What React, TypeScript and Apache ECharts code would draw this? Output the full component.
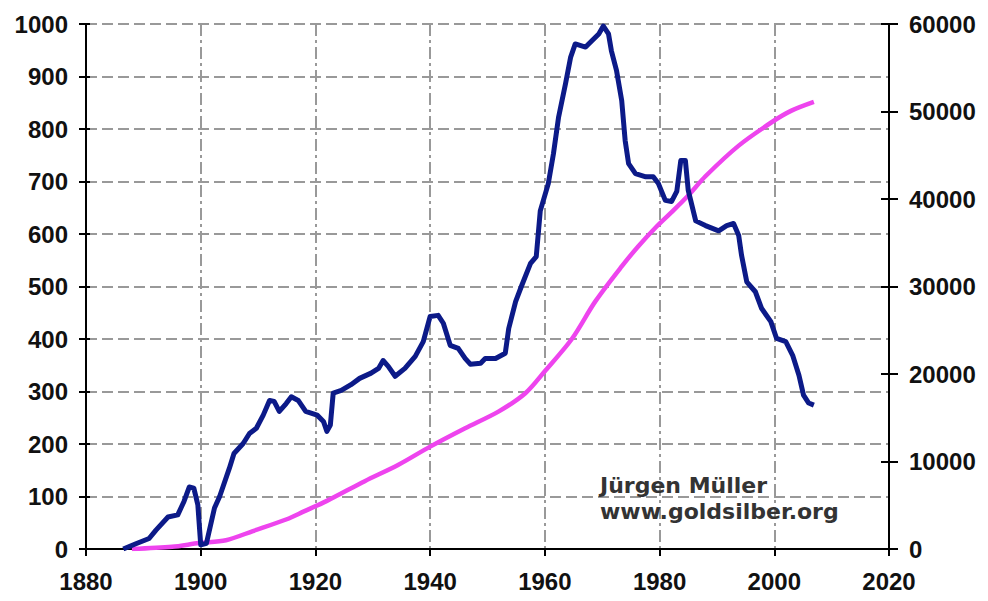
import React, { useEffect, useRef } from "react";
import * as echarts from "echarts";

const blueSeries: [number, number][] = [
  [1886.5, 0], [1888.7, 10], [1891, 20], [1892.2, 36], [1894.3, 61], [1896, 65],
  [1897.1, 91], [1898, 118], [1898.8, 116], [1899.5, 84], [1900, 8], [1901, 11],
  [1902.4, 78], [1903.3, 100], [1905, 154], [1905.8, 182], [1907.4, 201], [1908.5, 220],
  [1909.7, 230], [1910.9, 255], [1912, 283], [1912.8, 281], [1913.7, 262], [1914.9, 277],
  [1915.8, 290], [1917, 283], [1918.3, 262], [1920.3, 255], [1921.4, 243], [1922, 224],
  [1922.6, 236], [1923.1, 297], [1924.5, 302], [1926.2, 313], [1927.7, 325], [1929.7, 335],
  [1931, 344], [1931.8, 359], [1932.7, 348], [1933.9, 329], [1935.6, 344], [1937.4, 367],
  [1938.8, 395], [1940, 443], [1941.4, 445], [1942.3, 430], [1943.5, 388], [1944.9, 382],
  [1946.1, 363], [1947, 352], [1948.8, 354], [1949.6, 363], [1951.4, 363], [1953.1, 373],
  [1953.7, 420], [1954.9, 471], [1955.9, 500], [1957.5, 544], [1958.5, 557], [1959.2, 644],
  [1960.6, 696], [1961.5, 753], [1962.4, 823], [1963.6, 886], [1964.5, 937], [1965.3, 962],
  [1967.1, 956], [1968.2, 968], [1969.4, 981], [1970.2, 996], [1971.1, 981], [1971.6, 949],
  [1972.5, 911], [1973.4, 854], [1974, 778], [1974.6, 734], [1975.8, 715], [1977.6, 709],
  [1978.9, 709], [1979.8, 696], [1981, 664], [1982.1, 662], [1983, 681], [1983.7, 740],
  [1984.5, 740], [1985, 683], [1986.3, 625], [1988, 616], [1990.3, 606], [1991.7, 616],
  [1992.9, 620], [1993.8, 597], [1994.3, 559], [1995.2, 509], [1996.7, 490], [1997.8, 458],
  [1999.4, 433], [2000.4, 401], [2002, 395], [2003.2, 369], [2004.3, 331], [2005.1, 293],
  [2006, 278], [2006.9, 274],
];

const magentaSeries: [number, number][] = [
  [1888, 0], [1895, 250], [1899.7, 680], [1904.4, 1000], [1909.1, 2050], [1915, 3400],
  [1918, 4300], [1922, 5500], [1928.6, 7750], [1934.4, 9600], [1940, 11700], [1946.1, 13800],
  [1951.9, 15700], [1956.6, 17800], [1960.1, 20400], [1964.7, 24000], [1968.8, 28300],
  [1973.4, 32300], [1976.3, 34600], [1979.4, 36800], [1982.1, 38500], [1985, 40400],
  [1988, 42600], [1993.8, 46100], [1999.6, 48800], [2003, 50100], [2006.9, 51100],
];

const xRange = { min: 1880, max: 2020, interval: 20 };
const leftRange = { min: 0, max: 1000, interval: 100 };
const rightRange = { min: 0, max: 60000, interval: 10000 };
const watermarkLines = ["Jürgen Müller", "www.goldsilber.org"];

export default function App() {
  const ref = useRef<HTMLDivElement>(null);
  useEffect(() => {
    if (!ref.current) return;
    const chart = echarts.init(ref.current, null, { renderer: "svg" });
    const labelStyle = {
      color: "#111",
      fontSize: 24,
      fontWeight: "bold" as const,
      fontFamily: "Liberation Sans, Arial, sans-serif",
      formatter: (v: number) => String(v),
    };
    const axisLine = { show: true, lineStyle: { color: "#000", width: 2 } };
    chart.setOption({
      animation: false,
      backgroundColor: "#fff",
      grid: { left: 78, right: 91, top: 16, bottom: 41, containLabel: false },
      xAxis: {
        type: "value",
        ...xRange,
        axisLine: { ...axisLine, onZero: false },
        axisTick: { show: true, length: 7, lineStyle: { color: "#000", width: 2 } },
        axisLabel: { ...labelStyle, margin: 20 },
        splitLine: {
          show: true,
          lineStyle: { color: "#999", width: 2, type: [12, 4, 3, 4] },
        },
      },
      yAxis: [
        {
          type: "value",
          position: "left",
          ...leftRange,
          axisLine,
          axisTick: { show: true, length: 7, lineStyle: { color: "#000", width: 2 } },
          axisLabel: { ...labelStyle, margin: 18 },
          splitLine: {
            show: true,
            lineStyle: { color: "#999", width: 2, type: [11, 5] },
          },
        },
        {
          type: "value",
          position: "right",
          ...rightRange,
          axisLine,
          axisTick: { show: true, length: 9, lineStyle: { color: "#000", width: 2 } },
          axisLabel: { ...labelStyle, margin: 20 },
          splitLine: { show: false },
        },
        {
          type: "value",
          position: "right",
          ...rightRange,
          axisLine: { show: false },
          axisTick: { show: true, inside: true, length: 8, lineStyle: { color: "#000", width: 2 } },
          axisLabel: { show: false },
          splitLine: { show: false },
        },
        {
          type: "value",
          position: "left",
          ...leftRange,
          axisLine: { show: false },
          axisTick: { show: true, inside: true, length: 4, lineStyle: { color: "#000", width: 2 } },
          axisLabel: { show: false },
          splitLine: { show: false },
        },
      ],
      series: [
        {
          type: "line",
          yAxisIndex: 1,
          data: magentaSeries,
          showSymbol: false,
          smooth: 0.3,
          lineStyle: { color: "#ee44ee", width: 4.5 },
          z: 3,
        },
        {
          type: "line",
          yAxisIndex: 0,
          data: blueSeries,
          showSymbol: false,
          lineStyle: { color: "#0c1a88", width: 5, join: "round" },
          z: 4,
        },
      ],
      graphic: watermarkLines.map((t, i) => ({
        type: "text",
        left: 592,
        top: 466 + i * 26,
        z: 10,
        style: {
          text: t,
          fill: "#333",
          font: "bold 22px 'DejaVu Sans', Verdana, sans-serif",
        },
      })),
    });
    return () => chart.dispose();
  }, []);
  return <div ref={ref} style={{ width: 972, height: 585 }} />;
}
